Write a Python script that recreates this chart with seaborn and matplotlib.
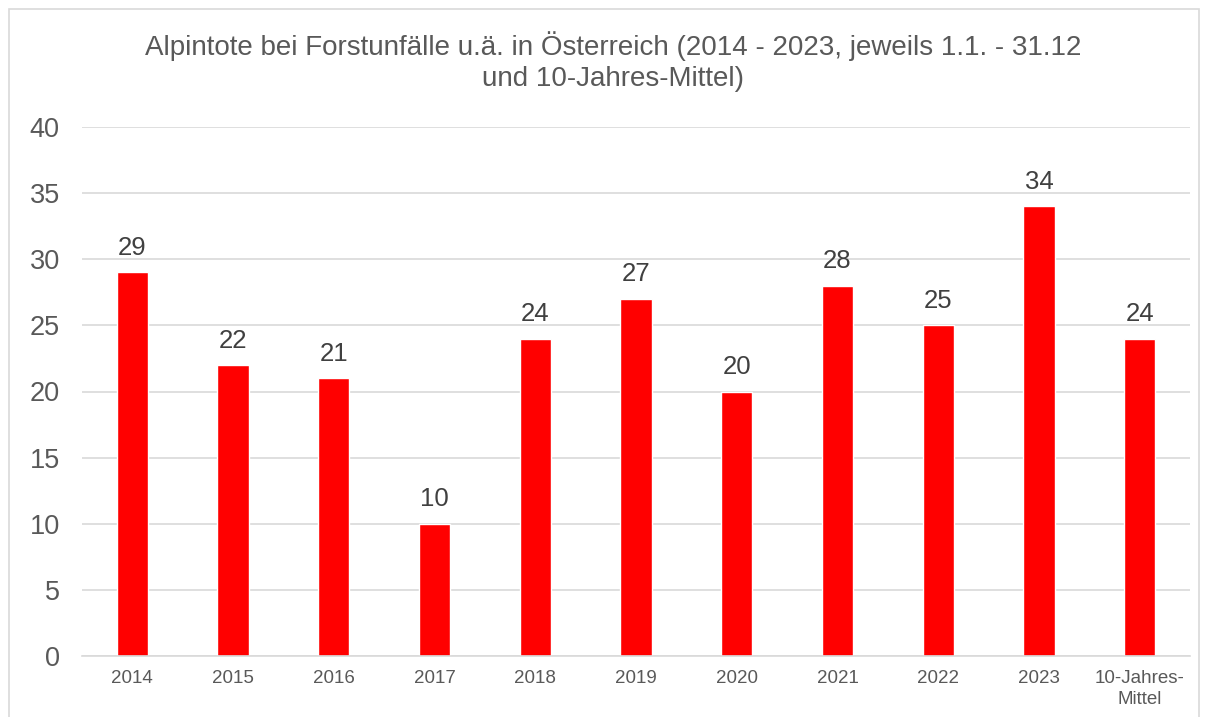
import matplotlib
matplotlib.use("Agg")
import matplotlib.pyplot as plt
import seaborn as sns
import pandas as pd
from matplotlib.patches import Rectangle

categories = ["2014", "2015", "2016", "2017", "2018", "2019", "2020", "2021", "2022", "2023", "10-Jahres-\nMittel"]
values = [29, 22, 21, 10, 24, 27, 20, 28, 25, 34, 24]
yticks = [0, 5, 10, 15, 20, 25, 30, 35, 40]
title = "Alpintote bei Forstunfälle u.ä. in Österreich (2014 - 2023, jeweils 1.1. - 31.12\nund 10-Jahres-Mittel)"

sns.set_theme(style="white")
plt.rcParams['font.family'] = ['Liberation Sans', 'DejaVu Sans']

TXT = "#595959"
GRID = "#d9d9d9"

fig = plt.figure(figsize=(12.07, 7.17), dpi=100)
ax = fig.add_axes([82/1207, 1-656/717, (1190-82)/1207, (656-127)/717])

df = pd.DataFrame({"cat": categories, "val": values})
sns.barplot(data=df, x="cat", y="val", color="#ff0000", width=0.31, saturation=1, ax=ax, zorder=3)

ax.set_ylim(0, 40)
ax.set_yticks(yticks)
ax.set_yticklabels([str(t) for t in yticks], fontsize=19.5, color=TXT)
ax.tick_params(axis="y", length=0, pad=16)
ax.tick_params(axis="x", length=0, pad=10, labelsize=13.5, labelcolor=TXT)
for lab in ax.get_xticklabels():
    lab.set_linespacing(1.3)
ax.set_xlabel("")
ax.set_ylabel("")
ax.grid(axis="y", color=GRID, linewidth=1.2, zorder=0)
for s in ["top", "right", "left"]:
    ax.spines[s].set_visible(False)
ax.spines["bottom"].set_color(GRID)
ax.spines["bottom"].set_linewidth(1.2)
ax.spines["bottom"].set_zorder(4)

for c in ax.containers:
    ax.bar_label(c, labels=[str(v) for v in values], padding=9, fontsize=18.5, color="#404040")

fig.text(0.508, 1-62/717, title, ha="center", va="center", fontsize=20, color=TXT, linespacing=1.25)

fig.patches.append(Rectangle((9/1207, -0.01), (1199-9)/1207, 1-9/717+0.01, transform=fig.transFigure,
                             fill=False, edgecolor="#d9d9d9", linewidth=1.2))

fig.savefig("out.png", dpi=100, facecolor="white")
